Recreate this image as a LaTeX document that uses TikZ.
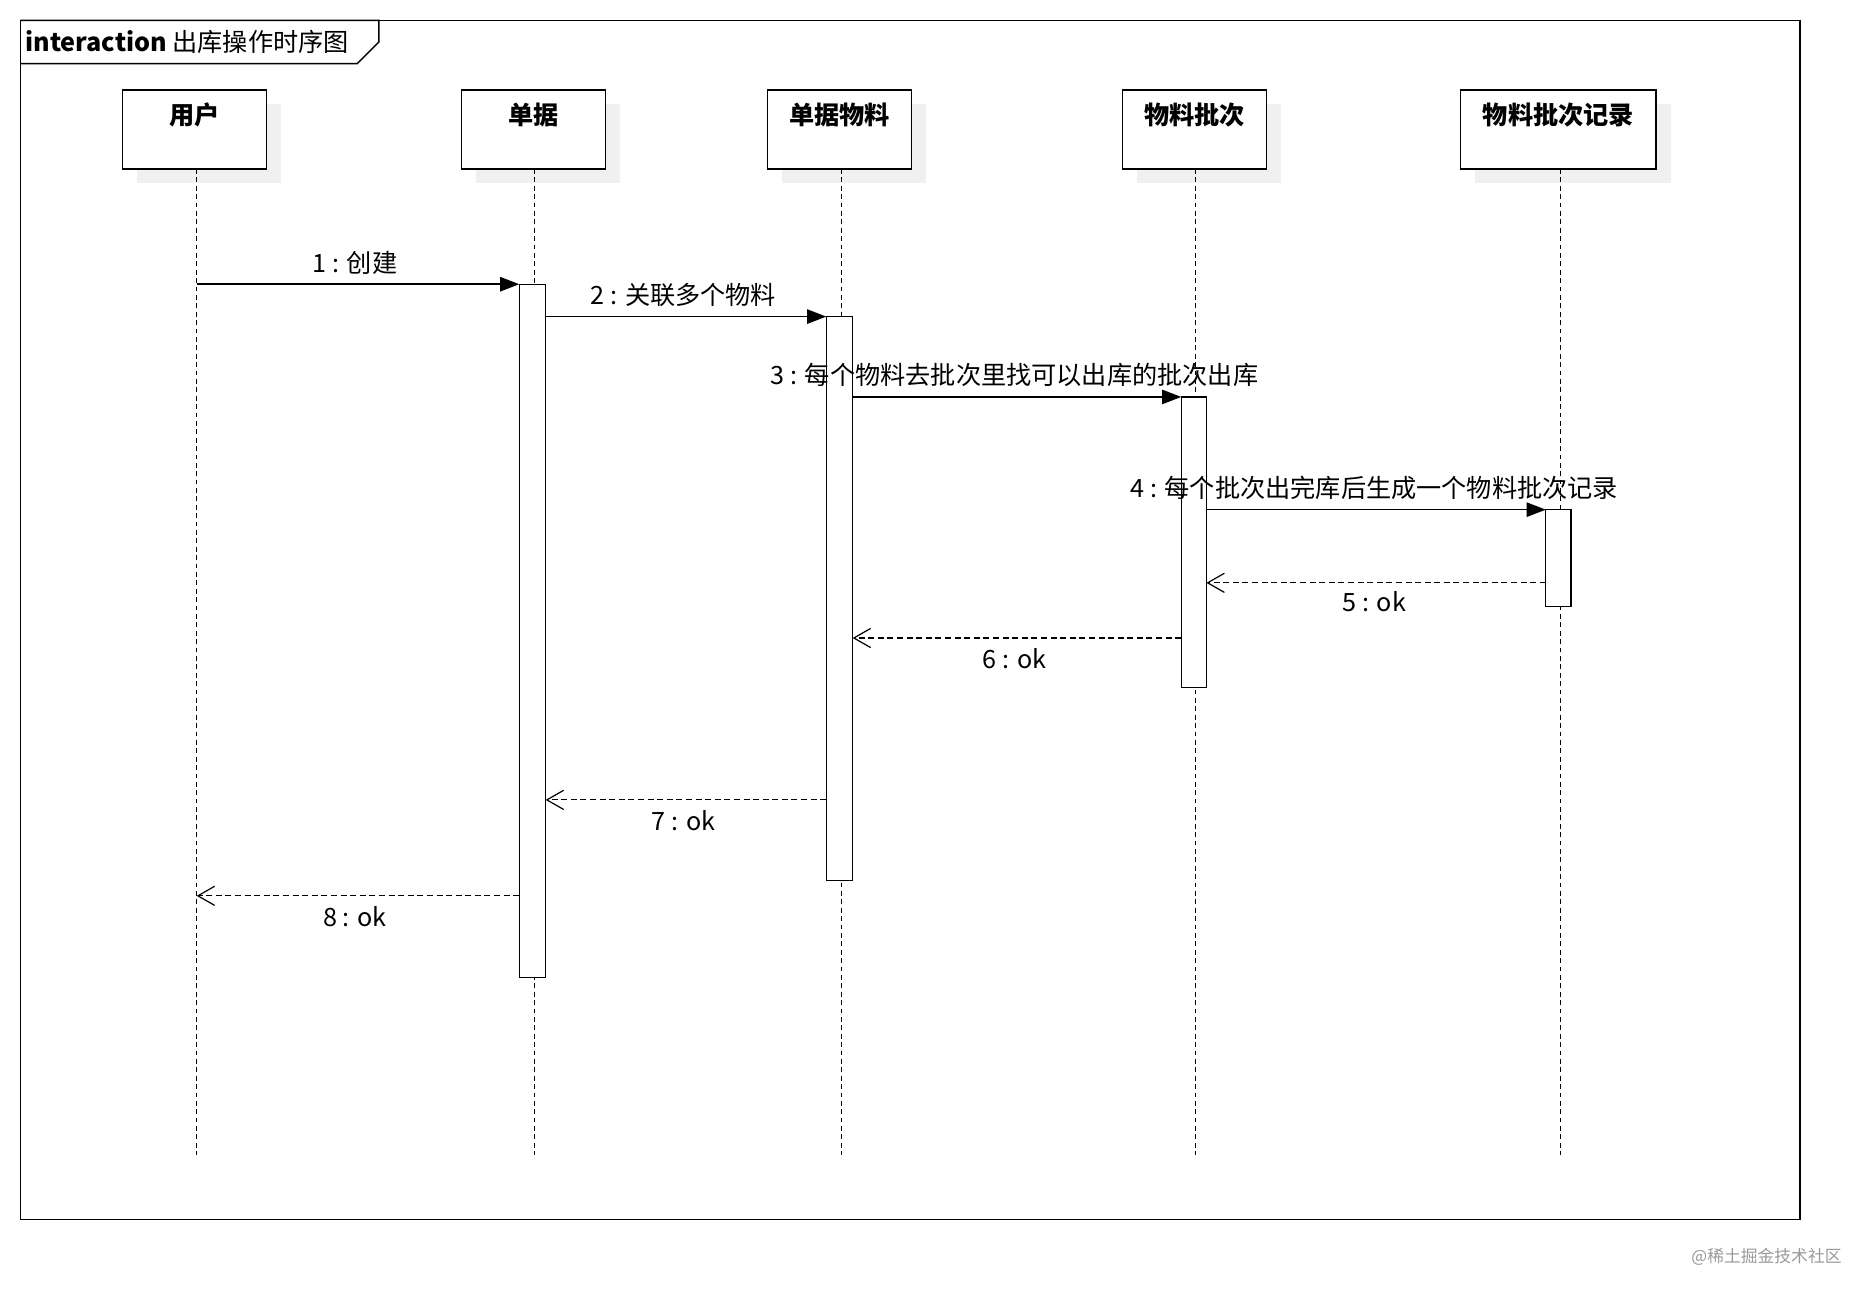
\documentclass[tikz,border=0pt]{standalone}
\usepackage{fontspec}
\setmainfont{Noto Sans CJK SC}
\usetikzlibrary{arrows.meta}
\begin{document}
\begin{tikzpicture}[x=1pt,y=-1pt,
  lbl/.style={font=\fontsize{21}{24}\selectfont,inner sep=0},
  life/.style={dash pattern=on 4pt off 3pt,line width=1pt},
  act/.style={draw,fill=white,line width=1pt},
  call/.style={line width=1.2pt,-{Triangle[length=16pt,width=12pt]}},
  ret/.style={line width=1pt,dash pattern=on 5pt off 3pt,-{Straight Barb[length=14pt,width=16pt,line width=1pt]}}]
\useasboundingbox (0,0) rectangle (1556,1075);
\draw[line width=1.2pt] (17,17) rectangle (1501,1017);
\draw[line width=1.2pt] (17,17) -- (316,17) -- (316,35) -- (298,53) -- (17,53);
\node[lbl,anchor=west] (title) at (21,35) {\textbf{interaction} 出库操作时序图};
% lifeline heads
\foreach \n/\xa/\xb/\t in {u/102/222/用户,d/385/505/单据,m/640/760/单据物料,p/936/1056/物料批次,r/1218/1381/物料批次记录}{
  \fill[black!6] (\xa+12,87) rectangle (\xb+12,153);
  \draw[line width=1.2pt,fill=white] (\xa,75) rectangle (\xb,141);
  \node[lbl,font=\bfseries\fontsize{21}{24}\selectfont] (h\n) at ({(\xa+\xb)/2},96) {\t};
}
\foreach \n/\x in {u/164,d/446,m/702,p/997,r/1301}{
  \coordinate (top\n) at (\x,141); \coordinate (bot\n) at (\x,963);
  \draw[life] (top\n) -- (bot\n);
}
% activations
\draw[act] (433,237) rectangle (455,815);
\draw[act] (689,264) rectangle (711,734);
\draw[act] (985,331) rectangle (1006,573);
\draw[act] (1289,425) rectangle (1310,506);
% messages
\coordinate (a1) at (164,237); \coordinate (b1) at (433,237);
\coordinate (a2) at (455,264); \coordinate (b2) at (689,264);
\coordinate (a3) at (711,331); \coordinate (b3) at (985,331);
\coordinate (a4) at (1006,425); \coordinate (b4) at (1289,425);
\coordinate (a5) at (1289,486); \coordinate (b5) at (1006,486);
\coordinate (a6) at (985,532); \coordinate (b6) at (711,532);
\coordinate (a7) at (689,667); \coordinate (b7) at (455,667);
\coordinate (a8) at (433,747); \coordinate (b8) at (164,747);
\draw[call] (a1) -- (b1);
\draw[call] (a2) -- (b2);
\draw[call] (a3) -- (b3);
\draw[call] (a4) -- (b4);
\draw[ret] (a5) -- (b5);
\draw[ret] (a6) -- (b6);
\draw[ret] (a7) -- (b7);
\draw[ret] (a8) -- (b8);
\node[lbl] (m1) at (296,219) {1 : 创建};
\node[lbl] (m2) at (570,246) {2 : 关联多个物料};
\node[lbl] (m3) at (846,313) {3 : 每个物料去批次里找可以出库的批次出库};
\node[lbl] (m4) at (1146,407) {4 : 每个批次出完库后生成一个物料批次记录};
\node[lbl] (m5) at (1146,502) {5 : ok};
\node[lbl] (m6) at (846,549) {6 : ok};
\node[lbl] (m7) at (570,684) {7 : ok};
\node[lbl] (m8) at (296,764) {8 : ok};
\node[lbl,text=black!40,font=\fontsize{14}{16}\selectfont] (wm) at (1473,1048) {@稀土掘金技术社区};
\end{tikzpicture}
\end{document}
